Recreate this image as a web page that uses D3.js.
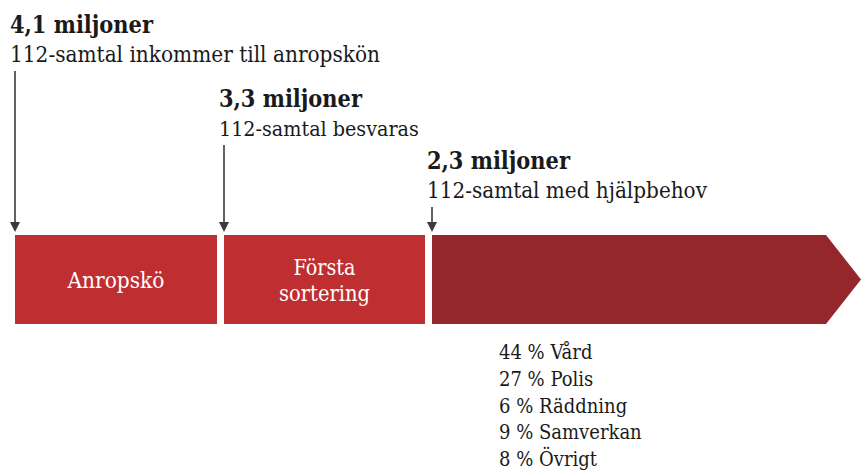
<!DOCTYPE html>
<html><head><meta charset="utf-8">
<script src="https://cdn.jsdelivr.net/npm/d3@7"></script>
<style>
html,body{margin:0;padding:0;background:#fff;}
svg{display:block;}
text{font-family:"DejaVu Serif Condensed","DejaVu Serif",serif;font-stretch:condensed;fill:#1a1a1a;}
</style></head><body>
<svg id="c" width="861" height="470"></svg>
<script>
// Data
const stages = ["Anropskö", "Första sortering", ""];
const stageValues = ["4,1 miljoner", "3,3 miljoner", "2,3 miljoner"];
const stageDescriptions = ["112-samtal inkommer till anropskön", "112-samtal besvaras", "112-samtal med hjälpbehov"];
const shareCategories = ["Vård", "Polis", "Räddning", "Samverkan", "Övrigt"];
const sharePercents = [44, 27, 6, 9, 8];

const svg = d3.select("#c");
const boxTop = 235, boxBottom = 324;
const boxColors = ["#bf2e31", "#bf2e31", "#93272b"];

const x = d3.scaleLinear().domain([0, 1]).range([15, 861]);
const segStarts = [0, 209/846, 417/846];
const segEnds = [202/846, 410/846, 1];

const labelTops = [33, 107, 169];

// fit a text element's font size so that it spans the given width
function fit(sel, target) {
  const fs = +sel.attr("font-size");
  const w = sel.node().getComputedTextLength();
  if (w > 0) sel.attr("font-size", (fs * target / w).toFixed(2));
}

stages.forEach((s, i) => {
  const x0 = x(segStarts[i]), x1 = x(segEnds[i]);
  if (i < 2) {
    svg.append("rect").attr("x", x0).attr("y", boxTop).attr("width", x1 - x0).attr("height", boxBottom - boxTop).attr("fill", boxColors[i]);
  } else {
    const tip = x1, shoulder = x1 - 35, mid = (boxTop + boxBottom) / 2;
    svg.append("path").attr("d", `M${x0},${boxTop}H${shoulder}L${tip},${mid}L${shoulder},${boxBottom}H${x0}Z`).attr("fill", boxColors[i]);
  }
  if (s) {
    const words = i === 1 ? ["Första", "sortering"] : [s];
    const cx = (x0 + x1) / 2;
    const startY = words.length === 1 ? 288 : 275;
    words.forEach((w, j) => {
      const t = svg.append("text").attr("text-anchor", "middle").attr("font-size", 20).style("fill", "#fff")
        .attr("x", cx).attr("y", startY + j * 26).text(w);
      if (w === "Anropskö") fit(t, 97);
      if (w === "Första") fit(t, 62);
      if (w === "sortering") fit(t, 91);
    });
  }
  const hx = x0 - 5;
  const h = svg.append("text").attr("x", hx).attr("y", labelTops[i]).attr("font-size", 22).attr("font-weight", "bold").text(stageValues[i]);
  fit(h, 143);
  const d = svg.append("text").attr("x", hx).attr("y", labelTops[i] + 29).attr("font-size", 20).text(stageDescriptions[i]);
  fit(d, [370, 200, 280][i]);
  const ax = x0;
  const ay0 = labelTops[i] + 38, ay1 = boxTop - 3;
  svg.append("line").attr("x1", ax).attr("x2", ax).attr("y1", ay0).attr("y2", ay1 - 8).attr("stroke", "#3a3a3a").attr("stroke-width", 1.6);
  svg.append("path").attr("d", `M${ax - 5},${ay1 - 10}L${ax + 5},${ay1 - 10}L${ax},${ay1}Z`).attr("fill", "#3a3a3a");
});

const list = svg.append("g");
shareCategories.forEach((c, i) => {
  const t = list.append("text").attr("x", 499).attr("y", 359 + i * 26.8).attr("font-size", 20).text(`${sharePercents[i]} % ${c}`);
  if (i === 3) fit(t, 149);
  list.selectAll("text").attr("font-size", t.attr("font-size"));
});
</script>
</body></html>
